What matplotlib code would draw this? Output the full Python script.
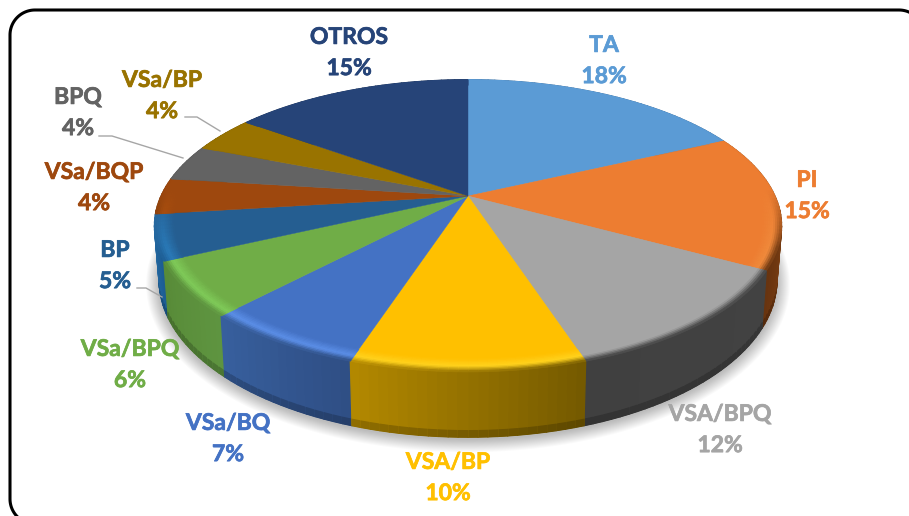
import numpy as np
import matplotlib
matplotlib.use('Agg')
import matplotlib.pyplot as plt
import matplotlib.patheffects as pe
from matplotlib.collections import PolyCollection
from matplotlib.colors import to_rgb
from matplotlib.patches import Polygon

# Data
labels = ['TA', 'PI', 'VSA/BPQ', 'VSA/BP', 'VSa/BQ', 'VSa/BPQ', 'BP', 'VSa/BQP', 'BPQ', 'VSa/BP', 'OTROS']
values = [18, 15, 12, 10, 7, 6, 5, 4, 4, 4, 15]

# Colours
top_colors = ['#5B9BD5', '#ED7D31', '#A5A5A5', '#FFC000', '#4472C4', '#70AD47',
              '#255E91', '#9E480E', '#636363', '#997300', '#264478']
glow_colors = ['#5B9BD5', '#F08A3C', '#A5A5A5', '#FFD21E', '#5C8FE8', '#80CC5A',
               '#2A7AB8', '#B5560F', '#636363', '#997300', '#264478']
side_start = ['#3D6F9E', '#A8581C', '#424242', '#755A00', '#2F4F85', '#5E9440',
              '#1D5D94', '#7A380A', '#4A4A4A', '#6E5300', '#1B3156']
side_end = ['#3D6F9E', '#66330F', '#404040', '#B58A00', '#38609F', '#578A37',
            '#2A73AD', '#7A380A', '#4A4A4A', '#6E5300', '#1B3156']

# Label positions (pixels)
label_x = [604, 807, 720, 448, 228, 130, 115, 94, 78, 162, 349]
label_y = [60, 195, 429, 477, 438, 364, 265, 187, 112, 95, 52]

# Leader lines
leaders = [
    ([185, 197, 220], [117, 117, 131]),
    ([99, 112, 183], [136, 136, 158]),
    ([137, 146, 162], [288, 288, 297]),
]

# Pie geometry
cx, cy = 468, 196
half_w, half_h = 307, 140
persp = 0.204
depth = 52
base_shrink = 0.985
arc_step = 1.5


def rgb(c):
    return np.array(to_rgb(c))


def project(r, theta, drop=0.0):
    u = r * np.sin(theta)
    v = -r * np.cos(theta)
    w = 1 - persp * v
    x = half_w * u / w
    y = half_h * v / w + drop * depth / w
    x = cx + x * (1 - (1 - base_shrink) * drop)
    return np.column_stack([x, cy + y])


fig = plt.figure(figsize=(9.09, 5.16), dpi=100)
ax = fig.add_axes([0, 0, 1, 1])
ax.set_xlim(0, 909)
ax.set_ylim(516, 0)
ax.axis('off')

edges = np.radians(np.cumsum([0] + values) * 3.6)

# Soft shadow under the pie
circle = np.linspace(0, 2 * np.pi, 240)
outline = project(1.0, circle, 1.0)
for grow in np.linspace(0.06, 0.002, 14):
    shadow = outline.copy()
    shadow[:, 0] = cx + (shadow[:, 0] - cx) * (1 + grow * 0.7)
    shadow[:, 1] = 240 + (shadow[:, 1] - 240) * (1 + grow * 1.1) + 2
    ax.add_patch(Polygon(shadow, closed=True, fc='black', ec='none', alpha=0.02, zorder=1))

# Rim of each slice
quads, cols, order = [], [], []
for i in range(len(values)):
    n = max(int(np.degrees(edges[i + 1] - edges[i]) / arc_step), 2)
    ang = np.linspace(edges[i], edges[i + 1], n + 1)
    for j in range(n):
        frac = j / n
        base = rgb(side_start[i]) * (1 - frac) + rgb(side_end[i]) * frac
        # full-height strip first, dark foot on top of it, so no inner seams show
        quads.append(np.vstack([project(1.0, ang[j:j + 2], 0), project(1.0, ang[j:j + 2], 0.995)[::-1]]))
        cols.append(base)
        order.append(-np.cos(ang[j]))
        quads.append(np.vstack([project(1.0, ang[j:j + 2], 0.9), project(1.0, ang[j:j + 2], 1.0)[::-1]]))
        cols.append(base * 0.8)
        order.append(-np.cos(ang[j]) + 1e-6)
idx = np.argsort(order)
ax.add_collection(PolyCollection([quads[k] for k in idx], facecolors=[cols[k] for k in idx],
                                 edgecolors=[cols[k] for k in idx], linewidths=0.9, zorder=2))

# Top faces
for i in range(len(values)):
    ang = np.linspace(edges[i], edges[i + 1], 80)
    pts = np.vstack([[cx, cy], project(0.995, ang)])
    ax.add_patch(Polygon(pts, closed=True, fc=top_colors[i], ec=top_colors[i], lw=0.3, zorder=3))

# Bevel along the rim
bevel_in = 0.94
quads, cols = [], []
for i in range(len(values)):
    n = max(int(np.degrees(edges[i + 1] - edges[i]) / arc_step), 2)
    ang = np.linspace(edges[i], edges[i + 1], n + 1)
    radii = np.linspace(bevel_in, 1.0, 11)
    for j in range(n):
        frac = j / n
        side = rgb(side_start[i]) * (1 - frac) + rgb(side_end[i]) * frac
        v = -np.cos(ang[j:j + 2].mean())
        s = np.clip((v + 0.05) / 0.4, 0, 1)
        for r0, r1 in zip(radii[:-1], radii[1:]):
            t = ((r0 + r1) / 2 - bevel_in) / (1 - bevel_in)
            if t < 0.6:
                c = rgb(top_colors[i]) * (1 - t / 0.6) + rgb(glow_colors[i]) * (t / 0.6)
            else:
                m = (t - 0.6) / 0.4
                c = rgb(glow_colors[i]) * (1 - m) + side * m
            c = rgb(top_colors[i]) * (1 - s) + c * s
            p0 = project(r0, ang[j:j + 2])
            p1 = project(r1, ang[j:j + 2])
            quads.append(np.vstack([p0, p1[::-1]]))
            cols.append(c)
ax.add_collection(PolyCollection(quads, facecolors=cols, edgecolors=cols, linewidths=0.6, zorder=4))

# Leader lines and labels
for lx, ly in leaders:
    ax.plot(lx, ly, color='#A6A6A6', lw=1.0, zorder=5)

for name, val, x, y, c in zip(labels, values, label_x, label_y, top_colors):
    ax.text(x, y + 1, f'{name}\n{val}%', ha='center', va='center', color=c, family='Lato',
            fontweight='bold', fontsize=16.5, linespacing=1.6, zorder=6,
            path_effects=[pe.withStroke(linewidth=0.5, foreground=c)])

# Rounded border, runs off the right and bottom edges
rad = 25
corner = np.linspace(0, np.pi / 2, 30)
border_x = np.r_[35 - rad * np.cos(corner[::-1]), 35 - rad * np.cos(corner), 899 + rad * np.sin(corner)]
border_y = np.r_[499 + rad * np.sin(corner[::-1]), 35 - rad * np.sin(corner), 35 - rad * np.cos(corner)]
ax.plot(border_x, border_y, color='black', lw=2.2, zorder=7, solid_capstyle='butt')

fig.savefig('out.png', dpi=100)
